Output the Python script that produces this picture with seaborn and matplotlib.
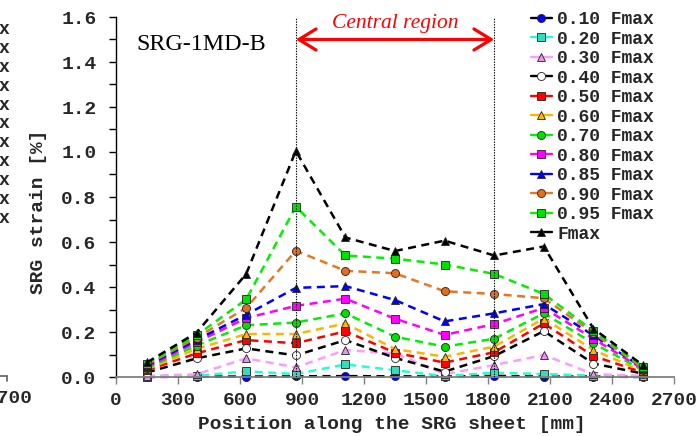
import matplotlib
matplotlib.use("Agg")
import matplotlib.pyplot as plt
from matplotlib.lines import Line2D
from matplotlib.patches import FancyArrowPatch
from matplotlib.font_manager import FontProperties
import seaborn as sns
import pandas as pd
import numpy as np

# ---------------- data ----------------
positions = [150, 390, 630, 870, 1110, 1350, 1590, 1830, 2070, 2310, 2550]

labels = ["0.10 Fmax", "0.20 Fmax", "0.30 Fmax", "0.40 Fmax", "0.50 Fmax",
          "0.60 Fmax", "0.70 Fmax", "0.80 Fmax", "0.85 Fmax", "0.90 Fmax",
          "0.95 Fmax", "Fmax"]

s010 = [0.000, 0.002, 0.002, 0.003, 0.004, 0.003, 0.002, 0.005, 0.002, 0.002, 0.000]
s020 = [0.002, 0.005, 0.025, 0.013, 0.056, 0.030, 0.004, 0.019, 0.013, 0.006, 0.003]
s030 = [0.005, 0.012, 0.083, 0.043, 0.120, 0.105, 0.013, 0.053, 0.098, 0.013, 0.005]
s040 = [0.020, 0.083, 0.127, 0.096, 0.164, 0.085, 0.024, 0.093, 0.204, 0.060, 0.015]
s050 = [0.030, 0.105, 0.164, 0.150, 0.203, 0.108, 0.064, 0.110, 0.238, 0.093, 0.020]
s060 = [0.035, 0.125, 0.191, 0.191, 0.238, 0.124, 0.090, 0.135, 0.260, 0.120, 0.025]
s070 = [0.040, 0.140, 0.230, 0.242, 0.283, 0.179, 0.135, 0.170, 0.283, 0.150, 0.030]
s080 = [0.045, 0.155, 0.262, 0.316, 0.348, 0.259, 0.187, 0.235, 0.307, 0.170, 0.035]
s085 = [0.050, 0.165, 0.277, 0.396, 0.404, 0.342, 0.247, 0.283, 0.324, 0.185, 0.040]
s090 = [0.055, 0.175, 0.307, 0.561, 0.472, 0.461, 0.381, 0.369, 0.350, 0.195, 0.040]
s095 = [0.060, 0.185, 0.345, 0.757, 0.540, 0.526, 0.500, 0.458, 0.369, 0.205, 0.045]
s100 = [0.065, 0.197, 0.458, 1.005, 0.620, 0.560, 0.606, 0.540, 0.580, 0.215, 0.052]

series = [s010, s020, s030, s040, s050, s060, s070, s080, s085, s090, s095, s100]

line_colors = ["#000000", "#22FFD0", "#FF9CFF", "#000000", "#FF0000", "#FFB400",
               "#00F000", "#FF00FF", "#0000FF", "#E8761E", "#00F000", "#000000"]
marker_colors = ["#0000FF", "#33DDBB", "#EE90EE", "#FFFFFF", "#FF0000", "#FFB400",
                 "#00E000", "#FF00FF", "#0000FF", "#E07020", "#00E000", "#000000"]
markers = ["o", "s", "^", "o", "s", "^", "o", "s", "^", "o", "s", "^"]

x_ticks = [0, 300, 600, 900, 1200, 1500, 1800, 2100, 2400, 2700]
y_major = [0.0, 0.2, 0.4, 0.6, 0.8, 1.0, 1.2, 1.4, 1.6]
y_minor = [0.1, 0.3, 0.5, 0.7, 0.9, 1.1, 1.3, 1.5]
central_bounds = [870, 1830]

# ---------------- style ----------------
sns.set_style("ticks")
plt.rcParams["font.family"] = ["Liberation Mono", "DejaVu Sans"]
plt.rcParams["font.weight"] = "bold"

W, H = 698, 436
fig = plt.figure(figsize=(W / 100, H / 100), dpi=100)
ax = fig.add_axes([116 / W, 59 / H, 558 / W, 360 / H])

mono = FontProperties(family="Liberation Mono", weight="bold", size=14)
mono_leg = FontProperties(family="Liberation Mono", weight="bold", size=13)

for lab, vals, lc, mc, mk in zip(labels, series, line_colors, marker_colors, markers):
    df = pd.DataFrame({"pos": positions, "strain": vals})
    ms = 6.4 if mk == "^" else 5.8
    sns.lineplot(data=df, x="pos", y="strain", ax=ax, color=lc, linewidth=1.8,
                 linestyle=(0, (3.2, 2.2)), marker=mk, markersize=ms,
                 markerfacecolor=mc, markeredgecolor="#222222",
                 markeredgewidth=0.6, errorbar=None, legend=False, clip_on=False)

# central region lines
for xb in central_bounds:
    ax.axvline(xb, ymin=0, ymax=1, color="black", lw=0.8,
               linestyle=(0, (1.2, 1.2)), zorder=5)

arrow = FancyArrowPatch((central_bounds[0], 1.50), (central_bounds[1], 1.50),
                        arrowstyle="<->,head_length=0.62,head_width=0.38",
                        mutation_scale=20, color="#FF0000", lw=2.3, zorder=6,
                        shrinkA=0, shrinkB=0)
ax.add_patch(arrow)
ax.text(1350, 1.551, "Central region", color="#FF0000", ha="center",
        va="baseline", fontsize=15.5, style="italic", weight="normal",
        family="Liberation Serif")
ax.text(97, 1.453, "SRG-1MD-B", color="black", ha="left", va="baseline",
        fontsize=17.3, weight="normal", family="Liberation Serif")

# axes
ax.set_xlim(0, 2700)
ax.set_ylim(0, 1.6)
ax.set_xticks(x_ticks)
ax.set_xticklabels([str(t) for t in x_ticks], fontproperties=mono)
ax.set_yticks(y_major)
ax.set_yticklabels([f"{t:.1f}" for t in y_major], fontproperties=mono)
ax.set_yticks(y_minor, minor=True)
ax.tick_params(axis="x", direction="out", length=5, width=1.0, color="#808080", pad=6)
ax.tick_params(axis="y", which="both", direction="out", length=5, width=1.0,
               color="black", pad=9)
for sp in ["top", "right"]:
    ax.spines[sp].set_visible(False)
ax.spines["bottom"].set_color("#808080")
ax.spines["bottom"].set_linewidth(1.3)
ax.spines["left"].set_color("black")
ax.spines["left"].set_linewidth(1.0)

ax.set_xlabel("Position along the SRG sheet [mm]", fontproperties=mono)
ax.set_ylabel("SRG strain [%]", fontproperties=mono)
ax.xaxis.set_label_coords((391.5 - 116) / 558, (377 - 424) / 360)
ax.yaxis.set_label_coords((38 - 116) / 558, (377 - 212) / 360)
ax.xaxis.label.set_va("center")
ax.yaxis.label.set_va("center")

# legend
handles = [Line2D([0], [0], color=lc, lw=1.7, marker=mk,
                  markersize=(6.4 if mk == "^" else 5.8), markerfacecolor=mc,
                  markeredgecolor="#222222", markeredgewidth=0.6)
           for lc, mc, mk in zip(line_colors, marker_colors, markers)]
fig.legend(handles, labels, loc="upper left",
           bbox_to_anchor=(531 / W, (H - 11) / H), bbox_transform=fig.transFigure,
           frameon=False, borderpad=0, borderaxespad=0, handlelength=1.15,
           handletextpad=0.3, labelspacing=0.14, prop=mono_leg)

# neighbouring (cropped) panel fragments on the left edge
for i in range(11):
    y = H - (30 + i * 18.8)
    fig.text(-1 / W, y / H, "x", ha="left", va="center", fontproperties=mono_leg)
fig.text(33 / W, (H - 398) / H, "2700", ha="right", va="center", fontproperties=mono)
fig.add_artist(Line2D([0, 7 / W], [(H - 375.5) / H, (H - 375.5) / H],
                      transform=fig.transFigure, color="#606060", lw=1.2))
fig.add_artist(Line2D([7 / W, 7 / W], [(H - 375.5) / H, (H - 381) / H],
                      transform=fig.transFigure, color="#606060", lw=1.2))

fig.savefig("out.png", dpi=100)
